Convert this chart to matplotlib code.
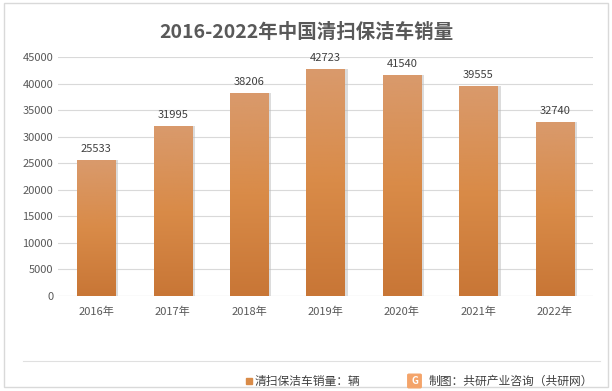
import numpy as np
import matplotlib.pyplot as plt
from matplotlib.colors import LinearSegmentedColormap
from matplotlib.patches import Rectangle, FancyBboxPatch

plt.rcParams['font.family'] = ['Noto Sans CJK SC', 'DejaVu Sans']

years = ['2016年', '2017年', '2018年', '2019年', '2020年', '2021年', '2022年']
sales = [25533, 31995, 38206, 42723, 41540, 39555, 32740]
yticks = list(range(0, 45001, 5000))

fig = plt.figure(figsize=(6.12, 3.91), dpi=100)
ax = fig.add_axes([58 / 612, 1 - 296 / 391, 535 / 612, 239 / 391])

grad = LinearSegmentedColormap.from_list('g', ['#C87636', '#D98B48', '#D99A6C'])
x = np.arange(len(years))
w = 0.5
# shadow
ax.bar(x + 0.04, sales, w, color='#BBBBBB', alpha=0.5, zorder=2)
bars = ax.bar(x, sales, w, color='none', zorder=3)
img = np.linspace(0, 1, 256).reshape(-1, 1)
for b in bars:
    x0, y0 = b.get_x(), b.get_y()
    im = ax.imshow(img, cmap=grad, aspect='auto', origin='lower',
                   extent=[x0, x0 + b.get_width(), y0, y0 + b.get_height()], zorder=3)
    im.set_clip_path(b)
    ax.text(b.get_x() + w / 2, b.get_height() + 1200, f'{int(b.get_height())}',
            ha='center', va='bottom', fontsize=8, color='#404040')

ax.set_xlim(-0.5, len(years) - 0.5)
ax.set_ylim(0, 45000)
ax.set_yticks(yticks)
ax.set_xticks(x)
ax.set_xticklabels(years)
ax.tick_params(length=0, labelsize=8, colors='#595959')
ax.tick_params(axis='x', pad=8)
ax.grid(axis='y', color='#D9D9D9', lw=0.8, zorder=0)
ax.set_axisbelow(True)
for s in ax.spines.values():
    s.set_visible(False)
ax.axhline(0, color='#D9D9D9', lw=0.8, zorder=1)

fig.text(0.5, 1 - 32 / 391, '2016-2022年中国清扫保洁车销量', ha='center', va='center',
         fontsize=14, fontweight='bold', color='#595959')

# frame and separator
fig.add_artist(Rectangle((4 / 612, 4 / 391), 604 / 612, 384 / 391, transform=fig.transFigure,
                         fill=False, ec='#D9D9D9', lw=1))
fig.add_artist(plt.Line2D([23 / 612, 600 / 612], [1 - 361 / 391] * 2, color='#E0E0E0', lw=0.8))

# legend
fig.add_artist(Rectangle((246 / 612, 1 - 384 / 391), 6 / 612, 6 / 391, transform=fig.transFigure,
                         color='#D98B48'))
fig.text(255 / 612, 1 - 381 / 391, '清扫保洁车销量：辆', ha='left', va='center', fontsize=8.5,
         color='#404040')
fig.add_artist(FancyBboxPatch((409 / 612, 1 - 387 / 391), 11 / 612, 12 / 391,
                              boxstyle='round,pad=0.002', transform=fig.transFigure,
                              color='#F4A46A'))
fig.text(414.5 / 612, 1 - 381 / 391, 'G', ha='center', va='center', fontsize=7,
         color='white', fontweight='bold')
fig.text(429 / 612, 1 - 381 / 391, '制图：共研产业咨询（共研网）', ha='left', va='center',
         fontsize=8.5, color='#404040')

fig.savefig('out.png', dpi=100)
